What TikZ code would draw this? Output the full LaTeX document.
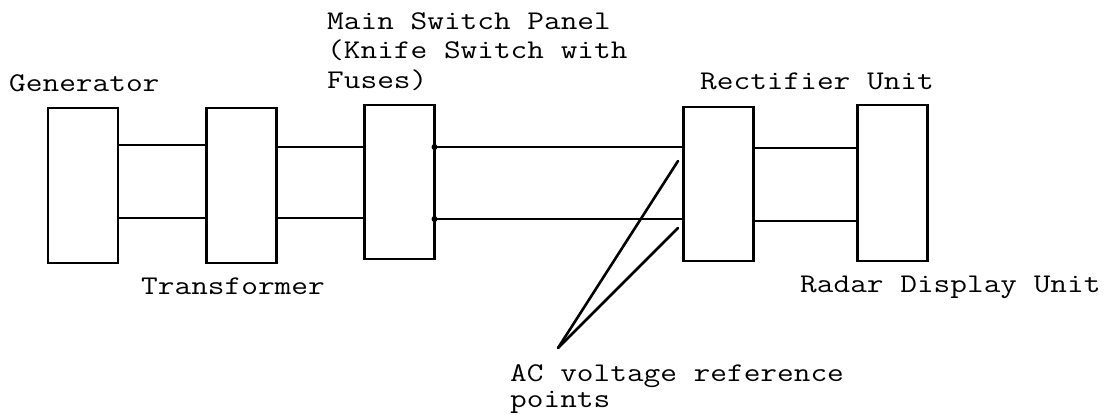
\documentclass[tikz,border=0pt]{standalone}
\usepackage{fontspec}
\newfontfamily\courlike{Latin Modern Mono}[FakeStretch=1.2]
\begin{document}
\begin{tikzpicture}[x=1pt,y=1pt,
  unitbox/.style={draw=black,line width=2.6pt,minimum width=70pt,inner sep=0pt,outer sep=0pt},
  wire/.style={line width=2pt},
  pointer/.style={line width=2.6pt,line cap=round},
  lbl/.style={anchor=base west,inner sep=0pt,font=\courlike\fontsize{27}{29.5}\selectfont}]
\useasboundingbox (0,0) rectangle (1112,415);
% boxes
\node[unitbox,minimum height=155pt] (gen) at (83,229.5) {};
\node[unitbox,minimum height=155pt] (trans) at (241.5,229.5) {};
\node[unitbox,minimum height=154pt] (main) at (399.5,233) {};
\node[unitbox,minimum height=154pt] (rect) at (718.5,231) {};
\node[unitbox,minimum height=156pt] (radar) at (892.5,232) {};
% wires
\draw[wire] (gen.east |- 0,270) -- (trans.west |- 0,270);
\draw[wire] (gen.east |- 0,197) -- (trans.west |- 0,197);
\draw[wire] (trans.east |- 0,268) -- (main.west |- 0,268);
\draw[wire] (trans.east |- 0,197) -- (main.west |- 0,197);
\draw[wire] (main.east |- 0,268) -- (rect.west |- 0,268);
\draw[wire] (main.east |- 0,196) -- (rect.west |- 0,196);
\draw[wire] (rect.east |- 0,267) -- (radar.west |- 0,267);
\draw[wire] (rect.east |- 0,194) -- (radar.west |- 0,194);
\fill (main.east |- 0,268) circle (3pt);
\fill (main.east |- 0,196) circle (3pt);
% pointers
\coordinate (apex) at (558,67);
\coordinate (refA) at (678,254);
\coordinate (refB) at (678,187);
\draw[pointer] (apex) -- (refA);
\draw[pointer] (apex) -- (refB);
% labels
\node[lbl] (tgen) at (9,323) {Generator};
\node[lbl] (tmain1) at (327,385) {Main Switch Panel};
\node[lbl] (tmain2) at (327,356) {(Knife Switch with};
\node[lbl] (tmain3) at (327,326) {Fuses)};
\node[lbl] (trect) at (700,325) {Rectifier Unit};
\node[lbl] (ttrans) at (141,120) {Transformer};
\node[lbl] (tradar) at (800,122) {Radar Display Unit};
\node[lbl] (tac1) at (510,33) {AC voltage reference};
\node[lbl] (tac2) at (510,7) {points};
\end{tikzpicture}
\end{document}
